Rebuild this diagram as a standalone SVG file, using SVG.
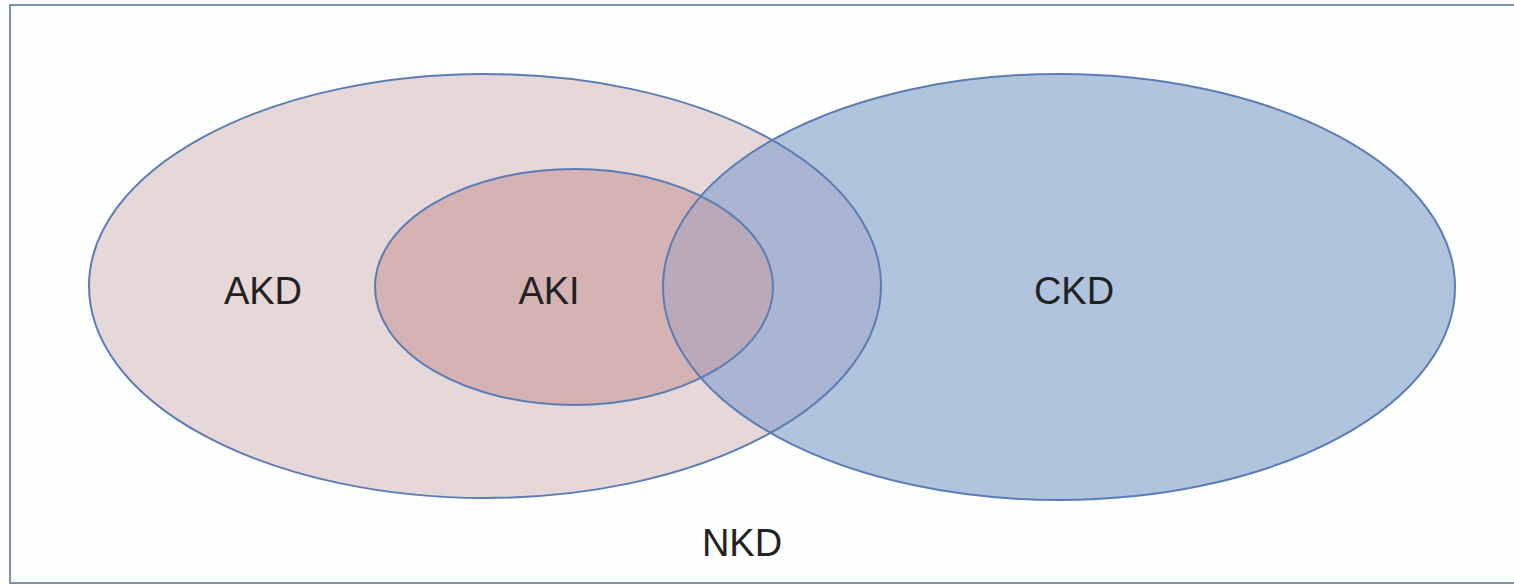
<svg xmlns="http://www.w3.org/2000/svg" width="1514" height="586" viewBox="0 0 1514 586">
<style>
.lbl{font-family:"Liberation Sans",Arial,sans-serif;font-size:38px;fill:#222;text-anchor:middle}
.out{fill:none;stroke:#5b7db3;stroke-width:2}
</style>
<defs>
<clipPath id="ckdClip"><ellipse cx="1059" cy="287" rx="396" ry="213"/></clipPath>
</defs>
<rect x="0" y="0" width="1514" height="586" fill="#ffffff"/>
<rect x="10" y="5" width="1512" height="578" fill="#fdfefe" stroke="#7d95a6" stroke-width="2"/>
<g id="AKD">
<ellipse cx="485" cy="286" rx="396" ry="212" fill="#e6d7d9"/>
</g>
<g id="CKD">
<ellipse cx="1059" cy="287" rx="396" ry="213" fill="#b0c4de"/>
<ellipse cx="485" cy="286" rx="396" ry="212" fill="#a9b5d3" clip-path="url(#ckdClip)"/>
</g>
<g id="AKI">
<ellipse cx="574" cy="287" rx="199" ry="118" fill="#d5b3b5"/>
<ellipse cx="574" cy="287" rx="199" ry="118" fill="#b9a9b9" clip-path="url(#ckdClip)"/>
</g>
<g id="outlines">
<ellipse class="out" cx="485" cy="286" rx="396" ry="212"/>
<ellipse class="out" cx="1059" cy="287" rx="396" ry="213"/>
<ellipse class="out" cx="574" cy="287" rx="199" ry="118"/>
</g>
<g id="labels">
<text class="lbl" x="263" y="304">AKD</text>
<text class="lbl" x="549" y="304">AKI</text>
<text class="lbl" x="1074" y="304">CKD</text>
<text id="NKD" class="lbl" x="742" y="556">NKD</text>
</g>
</svg>
